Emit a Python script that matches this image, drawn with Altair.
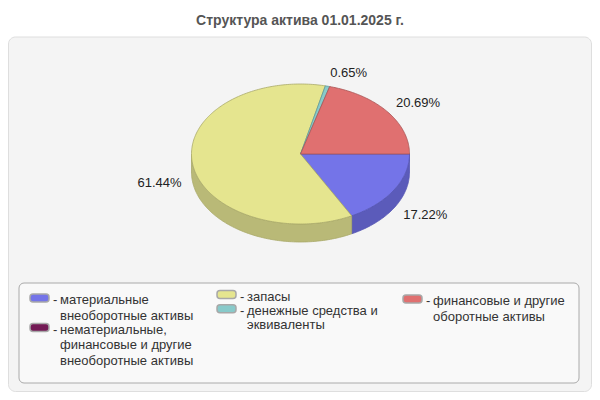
import altair as alt
import numpy as np
import pandas as pd

# ---------------- data ----------------
title_text = "Структура актива 01.01.2025 г."
categories = [
    "материальные\nвнеоборотные активы",
    "нематериальные,\nфинансовые и другие\nвнеоборотные активы",
    "запасы",
    "денежные средства и\nэквиваленты",
    "финансовые и другие\nоборотные активы",
]
shares = [17.22, 0.0, 61.44, 0.65, 20.69]  # percent, clockwise from 3 o'clock
top_colors = ["#7474e8", "#731a55", "#e5e58f", "#88caca", "#e07070"]
side_colors = ["#5b5bba", "#5a1444", "#b9b977", "#6ca4a4", "#b45a5a"]
edge_colors = ["#5656b4", "#50103c", "#a9a96a", "#5f9a9a", "#a85555"]

# ---------------- layout helpers (page px -> chart px) ----------------
OFF = 8
W, H = 584, 384
def px(v):
    return v - OFF

CX, CY = 300.5, 154.0      # pie centre (page)
RX, RY = 109.0, 70.0       # ellipse radii
DEPTH = 18.0 / RY          # side depth in unit-circle units

xscale = alt.Scale(domain=[-1, 1], range=[px(CX - RX), px(CX + RX)], nice=False, zero=False)
yscale = alt.Scale(domain=[-1, 1], range=[px(CY + RY), px(CY - RY)], nice=False, zero=False)

# ---------------- polygons built from the shares ----------------
rows = []
labels = []
cum = 0.0
for i, (cat, s) in enumerate(zip(categories, shares)):
    a0 = -cum / 100 * 2 * np.pi
    a1 = -(cum + s) / 100 * 2 * np.pi
    cum += s
    if s <= 0:
        continue
    n = max(3, int(abs(a1 - a0) / (np.pi / 180)) + 2)
    th = np.linspace(a0, a1, n)
    # front side wall (visible part: angles in [-pi, 0])
    lo, hi = max(min(a0, a1), -np.pi), min(max(a0, a1), 0.0)
    if hi > lo:
        ts = np.linspace(hi, lo, max(3, int((hi - lo) / (np.pi / 180)) + 2))
        pts = [(np.cos(t), np.sin(t)) for t in ts] + [(np.cos(t), np.sin(t) - DEPTH) for t in ts[::-1]]
        pts.append(pts[0])
        for k, (u, v) in enumerate(pts):
            rows.append(dict(poly=f"side{i}", layer=0, idx=k, u=u, v=v,
                             fill=side_colors[i], edge=edge_colors[i]))
    # top face
    pts = [(0.0, 0.0)] + [(np.cos(t), np.sin(t)) for t in th] + [(0.0, 0.0)]
    for k, (u, v) in enumerate(pts):
        rows.append(dict(poly=f"top{i}", layer=1, idx=k, u=u, v=v,
                         fill=top_colors[i], edge=edge_colors[i]))
    # percentage label
    m = (a0 + a1) / 2
    lu, lv = np.cos(m) * 1.1, np.sin(m) * 1.2
    if np.sin(m) < 0:
        lv -= DEPTH
    labels.append(dict(u=lu, v=lv, text=f"{s:.2f}%", side="left" if np.cos(m) >= 0 else "right"))

poly_df = pd.DataFrame(rows)
lab_df = pd.DataFrame(labels)

def poly_layer(layer):
    return alt.Chart(poly_df[poly_df.layer == layer]).mark_line(
        filled=True, strokeWidth=0.8, strokeJoin="round", interpolate="linear"
    ).encode(
        x=alt.X("u:Q", scale=xscale, axis=None),
        y=alt.Y("v:Q", scale=yscale, axis=None),
        detail="poly:N",
        order="idx:Q",
        color=alt.Color("fill:N", scale=None),
        stroke=alt.Stroke("edge:N", scale=None),
    )

sides = poly_layer(0)
tops = poly_layer(1)

lab_left = alt.Chart(lab_df[lab_df.side == "left"]).mark_text(
    align="left", baseline="middle", font="Liberation Sans", fontSize=13, color="#222222"
).encode(x=alt.X("u:Q", scale=xscale, axis=None), y=alt.Y("v:Q", scale=yscale, axis=None), text="text:N")
lab_right = alt.Chart(lab_df[lab_df.side == "right"]).mark_text(
    align="right", baseline="middle", font="Liberation Sans", fontSize=13, color="#222222"
).encode(x=alt.X("u:Q", scale=xscale, axis=None), y=alt.Y("v:Q", scale=yscale, axis=None), text="text:N")

# ---------------- frame, title ----------------
panel = alt.Chart(pd.DataFrame({"a": [0]})).mark_rect(
    fill="#f4f4f4", stroke="#dedede", strokeWidth=1, cornerRadius=7
).encode(x=alt.value(0.5), x2=alt.value(W - 0.5), y=alt.value(px(37)), y2=alt.value(H - 0.5))

title = alt.Chart(pd.DataFrame({"t": [title_text]})).mark_text(
    font="Liberation Sans", fontSize=14, fontWeight="bold", color="#555555", baseline="middle"
).encode(x=alt.value(px(300)), y=alt.value(px(21)), text="t:N")

legend_box = alt.Chart(pd.DataFrame({"a": [0]})).mark_rect(
    fill="#f9f9f9", stroke="#aaaaaa", strokeWidth=1, cornerRadius=5
).encode(x=alt.value(px(19)), x2=alt.value(px(579)), y=alt.value(px(283)), y2=alt.value(px(383)))

# legend layout: (column, swatch_x_left, first-line y, line height)
col_of = [0, 0, 1, 1, 2]
col_x = [30, 217, 403]
item_y = [300, 329.5, 296.5, 310.8, 301]
line_h = [15.5, 15.5, 14, 14, 15.7]

sw_rows, dash_rows, txt_rows = [], [], []
for i, cat in enumerate(categories):
    x0 = col_x[col_of[i]]
    y0 = item_y[i]
    sw_rows.append(dict(x=px(x0), x2=px(x0 + 19), y=px(y0 - 6), y2=px(y0 + 2), c=top_colors[i]))
    dash_rows.append(dict(x=px(x0 + 23), y=px(y0), t="-"))
    for j, line in enumerate(cat.split("\n")):
        txt_rows.append(dict(x=px(x0 + 30), y=px(y0 + j * line_h[i]), t=line))

sw = alt.Chart(pd.DataFrame(sw_rows)).mark_rect(
    stroke="#a8a8a8", strokeWidth=1.5, cornerRadius=3
).encode(
    x=alt.X("x:Q", scale=None), x2="x2:Q", y=alt.Y("y:Q", scale=None), y2="y2:Q",
    color=alt.Color("c:N", scale=None),
)
dash = alt.Chart(pd.DataFrame(dash_rows)).mark_text(
    align="left", baseline="middle", font="Liberation Sans", fontSize=13, color="#333333"
).encode(x=alt.X("x:Q", scale=None), y=alt.Y("y:Q", scale=None), text="t:N")
txt = alt.Chart(pd.DataFrame(txt_rows)).mark_text(
    align="left", baseline="middle", font="Liberation Sans", fontSize=13, color="#333333"
).encode(x=alt.X("x:Q", scale=None), y=alt.Y("y:Q", scale=None), text="t:N")

chart = alt.layer(
    panel, title, sides, tops, lab_left, lab_right, legend_box, sw, dash, txt
).resolve_scale(x="independent", y="independent", color="independent", stroke="independent").properties(
    width=W, height=H, padding=0, autosize=alt.AutoSizeParams(type="none"), background="white"
).configure_view(stroke=None)

chart.save("out.html", embed_options={"renderer": "svg", "actions": False})
